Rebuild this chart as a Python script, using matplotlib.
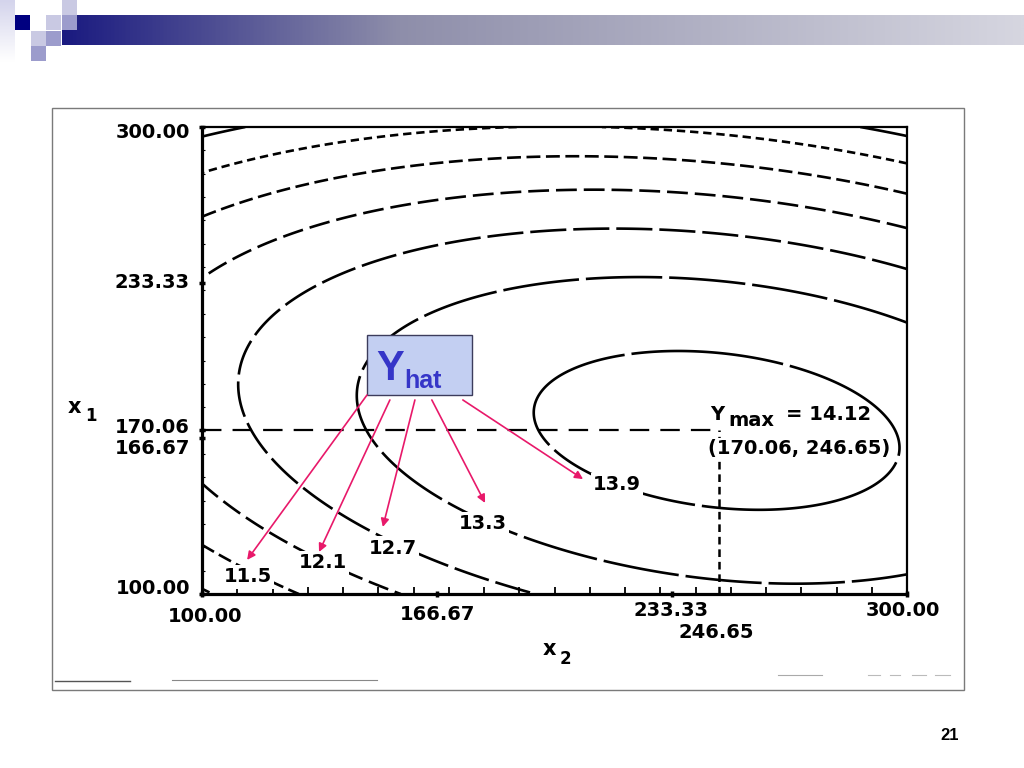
import numpy as np
import matplotlib
matplotlib.use('Agg')
import matplotlib.pyplot as plt
from matplotlib.patches import Rectangle
from matplotlib.colors import LinearSegmentedColormap
import matplotlib.transforms as mtransforms

plt.rcParams['lines.scale_dashes'] = False
plt.rcParams['font.family'] = ['DejaVu Sans']

# ---- fitted response surface around the optimum (coefficients)
Y_MAX = 14.12
X1_OPT = 170.06
X2_OPT = 246.65
A_22 = 8.6e-5    # curvature along x2
A_222 = 4.0e-8   # slight asymmetry along x2
A_12 = 5.8e-5    # x1*x2 interaction
A_11 = 2.0e-4    # curvature along x1

contour_levels = [10.3, 10.9, 11.5, 12.1, 12.7, 13.3, 13.9]
contour_dashes = [None, (6, 3.5), (10, 4), (15, 5), (26, 5), (55, 5), (110, 5)]

labelled_levels = ['11.5', '12.1', '12.7', '13.3', '13.9']
label_x2 = [113.0, 134.3, 154.2, 179.7, 217.7]
label_x1 = [107.3, 113.3, 119.7, 130.0, 146.7]

arrow_start_x2 = [146.8, 153.3, 160.4, 165.2, 174.0]
arrow_start_x1 = [185.2, 183.1, 183.1, 183.1, 183.1]
arrow_end_x2 = [112.8, 133.2, 151.3, 180.3, 208.1]
arrow_end_x1 = [114.6, 118.0, 128.7, 139.0, 149.2]

x_ticks = [100.0, 166.67, 233.33, 300.0]
x_tick_labels = ['100.00', '166.67', '233.33', '300.00']
y_ticks = [100.0, 166.67, 170.06, 233.33, 300.0]
y_tick_labels = ['100.00', '166.67', '170.06', '233.33', '300.00']

# ---- figure
W, H = 1024, 768
fig = plt.figure(figsize=(W / 100, H / 100), dpi=100)
fig.patch.set_facecolor('white')

# slide decoration layer (pixel coordinates)
deco = fig.add_axes([0, 0, 1, 1])
deco.set_xlim(0, W)
deco.set_ylim(H, 0)
deco.axis('off')
deco.set_zorder(0)

bar_cmap = LinearSegmentedColormap.from_list(
    'bar', [(0.0, '#1a1a80'), (0.35, '#8e8eaa'), (1.0, '#d6d6e0')])
grad = np.linspace(0, 1, 512)[None, :]
deco.imshow(grad, cmap=bar_cmap, extent=[62, W, 45, 15], aspect='auto', zorder=1)
strip = np.linspace(0, 1, 64)[:, None]
strip_cmap = LinearSegmentedColormap.from_list('strip', ['#d4d4ec', '#ffffff'])
deco.imshow(strip, cmap=strip_cmap, extent=[0, 15, 62, 0], aspect='auto', zorder=1)
light, medium, navy = '#c9c9e3', '#9c9ccc', '#000080'
for (sx, sy, col) in [(62, 0, light), (15, 15, navy), (46, 15, light), (62, 15, medium),
                      (31, 31, light), (46, 31, medium), (31, 46, medium)]:
    deco.add_patch(Rectangle((sx, sy), 15, 15, facecolor=col, edgecolor='none', zorder=2))

# frame of the picture
deco.add_patch(Rectangle((52, 108), 912, 582, facecolor='none', edgecolor='#7a7a7a', lw=1.0, zorder=2))
# faint scan remnants
for (xa, xb, yy, c, lw) in [(55, 130, 681, '#555555', 1.0), (172, 377, 680, '#888888', 0.8),
                            (778, 822, 675, '#aaaaaa', 0.8), (868, 880, 675, '#bbbbbb', 0.8),
                            (890, 900, 675, '#bbbbbb', 0.8), (912, 926, 675, '#bbbbbb', 0.8),
                            (935, 950, 675, '#bbbbbb', 0.8)]:
    deco.plot([xa, xb], [yy, yy], color=c, lw=lw, zorder=2)

deco.text(950, 736, '21', fontsize=12, fontweight='bold', family='Liberation Sans',
          ha='center', va='center', zorder=3)

# ---- main contour axes
ax = fig.add_axes([202 / W, 1 - 594 / H, 705 / W, 467 / H])
ax.set_zorder(1)
ax.set_xlim(100, 300)
ax.set_ylim(100, 300)

x2 = np.linspace(100, 300, 600)
x1 = np.linspace(100, 300, 600)
X2, X1 = np.meshgrid(x2, x1)
U = X2 - X2_OPT
V = X1 - X1_OPT
Z = Y_MAX - (A_22 * U ** 2 + A_222 * U ** 3 + A_12 * U * V + A_11 * V ** 2)

for lev, dsh in zip(contour_levels, contour_dashes):
    ls = 'solid' if dsh is None else [(0, dsh)]
    ax.contour(X2, X1, Z, levels=[lev], colors='black', linewidths=1.9,
               linestyles=ls, zorder=2)

# reference lines to the optimum
ax.plot([100, X2_OPT], [X1_OPT, X1_OPT], color='black', lw=1.6,
        dashes=(14, 8), zorder=2)
ax.plot([X2_OPT, X2_OPT], [100, X1_OPT], color='black', lw=1.8,
        dashes=(5.5, 3.5), zorder=2)

# contour labels
for txt, px, py in zip(labelled_levels, label_x2, label_x1):
    ax.text(px, py, txt, fontsize=14, fontweight='bold', ha='center', va='center',
            zorder=4, bbox=dict(facecolor='white', edgecolor='none', pad=1.5))

# optimum annotation
ax.text(244.1, 174.5, 'Y', fontsize=14, fontweight='bold', ha='left', va='baseline', zorder=4)
ax.text(249.4, 172.0, 'max', fontsize=14, fontweight='bold', ha='left', va='baseline', zorder=4)
ax.text(265.6, 174.5, '= 14.12', fontsize=14, fontweight='bold', ha='left', va='baseline', zorder=4)
ax.text(269.4, 162.5, '(170.06, 246.65)', fontsize=14, fontweight='bold', ha='center',
        va='center', zorder=4, bbox=dict(facecolor='white', edgecolor='none', pad=0.5))

# Yhat callout
ax.add_patch(Rectangle((146.8, 185.2), 29.8, 25.7, facecolor='#c3cff2', edgecolor='#3c3c5c',
                       lw=1.0, zorder=5))
ax.text(149.4, 191.6, 'Y', fontsize=30, fontweight='bold', color='#3535c8',
        family='Liberation Sans', ha='left', va='baseline', zorder=6)
ax.text(157.3, 188.2, 'hat', fontsize=18, fontweight='bold', color='#3535c8',
        family='Liberation Sans', ha='left', va='baseline', zorder=6)
for sx, sy, ex, ey in zip(arrow_start_x2, arrow_start_x1, arrow_end_x2, arrow_end_x1):
    ax.annotate('', xy=(ex, ey), xytext=(sx, sy), zorder=7,
                arrowprops=dict(arrowstyle='-|>', color='#e8196a', lw=1.2,
                                mutation_scale=12, shrinkA=0, shrinkB=0))

# spines
for side in ['left', 'bottom']:
    ax.spines[side].set_linewidth(2.3)
for side in ['top', 'right']:
    ax.spines[side].set_linewidth(1.6)

# ticks
ax.set_xticks(x_ticks, labels=[''] * len(x_ticks))
ax.set_yticks(y_ticks, labels=[''] * len(y_ticks))
ax.set_xticks(np.arange(110, 300, 10), minor=True)
ax.set_yticks(np.arange(110, 300, 10), minor=True)
ax.tick_params(which='major', direction='inout', length=4, width=2.5, pad=0)
ax.tick_params(which='minor', direction='in', length=5, width=1.3)
ax.tick_params(axis='y', which='minor', length=2, width=0.8)

def offset(dx_px, dy_px):
    return mtransforms.ScaledTranslation(dx_px / 100, -dy_px / 100, fig.dpi_scale_trans)

y_label_dy = [-6, 10, -3, 0, 6]
for val, txt, dy in zip(y_ticks, y_tick_labels, y_label_dy):
    ax.text(0, val, txt, transform=ax.get_yaxis_transform() + offset(-12, dy),
            fontsize=14, fontweight='bold', ha='right', va='center')

x_label_dx = [3, 0, -1, -4]
x_label_dy = [23, 21, 17, 17]
for val, txt, dx, dy in zip(x_ticks, x_tick_labels, x_label_dx, x_label_dy):
    ax.text(val, 0, txt, transform=ax.get_xaxis_transform() + offset(dx, dy),
            fontsize=14, fontweight='bold', ha='center', va='center')
ax.text(X2_OPT, 0, '246.65', transform=ax.get_xaxis_transform() + offset(-3, 39),
        fontsize=14, fontweight='bold', ha='center', va='center')

# axis titles
fig.text(68 / W, 1 - 413 / H, 'x', fontsize=15, fontweight='bold', ha='left', va='baseline')
fig.text(85 / W, 1 - 421 / H, '1', fontsize=12, fontweight='bold', ha='left', va='baseline')
fig.text(543 / W, 1 - 655 / H, 'x', fontsize=15, fontweight='bold', ha='left', va='baseline')
fig.text(560 / W, 1 - 664 / H, '2', fontsize=12, fontweight='bold', ha='left', va='baseline')

fig.savefig('out.png', dpi=100)
